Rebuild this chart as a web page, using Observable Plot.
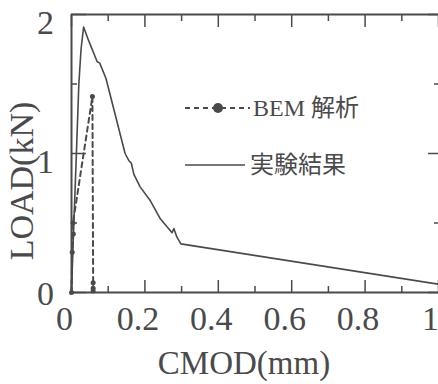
<!DOCTYPE html>
<html><head><meta charset="utf-8">
<script src="https://cdn.jsdelivr.net/npm/d3@7"></script>
<script src="https://cdn.jsdelivr.net/npm/@observablehq/plot@0.6"></script>
<style>
html,body{margin:0;padding:0;background:#fff;}
#chart{width:438px;height:384px;}
</style>
</head><body><div id="chart"></div>
<script>
// Experimental result (実験結果): CMOD (mm), LOAD (kN)
const expCmod = [0, 0.005, 0.012, 0.02, 0.026, 0.033, 0.047, 0.070, 0.077, 0.094, 0.146, 0.156, 0.163, 0.170, 0.187, 0.215, 0.242, 0.274, 0.279, 0.287, 0.298, 1.0];
const expLoad = [0, 0.4, 0.9, 1.5, 1.75, 1.91, 1.81, 1.66, 1.65, 1.54, 1.00, 0.95, 0.93, 0.85, 0.76, 0.66, 0.53, 0.43, 0.46, 0.40, 0.35, 0.06];
// BEM analysis (BEM 解析)
const bemCmod = [0, 0.002, 0.005, 0.004, 0.057, 0.059, 0.059, 0.059];
const bemLoad = [0, 0.29, 0.42, 0.50, 1.41, 0.07, 0.03, 0.01];
// ticks
const xMajor = [0, 0.2, 0.4, 0.6, 0.8, 1];
const xMinor = [0.1, 0.3, 0.5, 0.7, 0.9];
const xLabels = ["0", "0.2", "0.4", "0.6", "0.8", "1"];
const yMajor = [0, 1, 2];
const yMinor = [0.5, 1.5];
const yLabels = ["0", "1", "2"];
const xTitle = "CMOD(mm)";
const yTitle = "LOAD(kN)";
const legendLabels = ["BEM 解析", "実験結果"];

const C = "#4a4a4a";
const FONT = "'Liberation Serif','Noto Sans CJK JP',serif";

const expData = expCmod.map((x, i) => ({x, y: expLoad[i]}));
const bemData = bemCmod.map((x, i) => ({x, y: bemLoad[i]}));
const xLab = xMajor.map((v, i) => ({v, t: xLabels[i]}));
const yLab = yMajor.map((v, i) => ({v, t: yLabels[i]}));
const tickText = {fontSize: 34, fill: C, textAnchor: "middle", lineAnchor: "middle", text: "t"};

const plot = Plot.plot({
  width: 438, height: 384,
  marginLeft: 71, marginRight: 0, marginTop: 14, marginBottom: 92,
  x: {domain: [0, 1]},
  y: {domain: [0, 2]},
  style: {fontFamily: FONT, color: C, background: "#fff"},
  marks: [
    // frame (top, bottom, left)
    Plot.ruleY([0, 2], {stroke: C, strokeWidth: 2}),
    Plot.ruleX([0], {stroke: C, strokeWidth: 2}),
    // inward ticks
    Plot.axisX(xMajor, {anchor: "bottom", tickSize: -12, tickFormat: () => "", stroke: C, strokeWidth: 1.5, label: null}),
    Plot.axisX(xMinor, {anchor: "bottom", tickSize: -6, tickFormat: () => "", stroke: C, strokeWidth: 1.5, label: null}),
    Plot.axisX(xMajor, {anchor: "top", tickSize: -12, tickFormat: () => "", stroke: C, strokeWidth: 1.5, label: null}),
    Plot.axisX(xMinor, {anchor: "top", tickSize: -6, tickFormat: () => "", stroke: C, strokeWidth: 1.5, label: null}),
    Plot.axisY(yMajor, {anchor: "left", tickSize: -15, tickFormat: () => "", stroke: C, strokeWidth: 1.5, label: null}),
    Plot.axisY(yMinor, {anchor: "left", tickSize: -6, tickFormat: () => "", stroke: C, strokeWidth: 1.5, label: null}),
    Plot.axisY(yMajor, {anchor: "right", tickSize: -11, tickFormat: () => "", stroke: C, strokeWidth: 1.5, label: null}),
    Plot.axisY(yMinor, {anchor: "right", tickSize: -5, tickFormat: () => "", stroke: C, strokeWidth: 1.5, label: null}),
    // tick labels
    Plot.text(xLab.slice(0, 5), {x: "v", frameAnchor: "bottom", dy: 27, dx: -7, ...tickText}),
    Plot.text(xLab.slice(5), {x: "v", frameAnchor: "bottom", dy: 27, dx: -8, ...tickText}),
    Plot.text(yLab.slice(1), {y: "v", frameAnchor: "left", dx: -26, dy: 9, ...tickText}),
    Plot.text(yLab.slice(0, 1), {y: "v", frameAnchor: "left", dx: -26, dy: 2, ...tickText}),
    // data
    Plot.line(expData, {x: "x", y: "y", stroke: C, strokeWidth: 1.6}),
    Plot.line(bemData, {x: "x", y: "y", stroke: C, strokeWidth: 2, strokeDasharray: "5,4"}),
    Plot.dot(bemData, {x: "x", y: "y", r: 2.5, fill: C})
  ]
});

const svg = d3.select(plot);
// axis titles
svg.append("text").attr("transform", "translate(244,362)")
  .attr("text-anchor", "middle").attr("dy", "0.35em")
  .attr("font-family", FONT).attr("font-size", 33).attr("fill", C).text(xTitle);
svg.append("text").attr("transform", "translate(21,181) rotate(-90)")
  .attr("text-anchor", "middle").attr("dy", "0.35em")
  .attr("font-family", FONT).attr("font-size", 34).attr("fill", C).text(yTitle);
// legend
const lg = svg.append("g").attr("font-family", FONT).attr("fill", C).attr("text-anchor", "start");
lg.append("line").attr("x1", 185).attr("x2", 250).attr("y1", 108).attr("y2", 108)
  .attr("stroke", C).attr("stroke-width", 2).attr("stroke-dasharray", "5,4");
lg.append("circle").attr("cx", 218).attr("cy", 108).attr("r", 5).attr("fill", C);
lg.append("text").attr("x", 253).attr("y", 108).attr("dy", "0.35em").attr("font-size", 24).text(legendLabels[0]);
lg.append("line").attr("x1", 185).attr("x2", 245).attr("y1", 165).attr("y2", 165)
  .attr("stroke", C).attr("stroke-width", 1.6);
lg.append("text").attr("x", 250).attr("y", 165).attr("dy", "0.35em").attr("font-size", 24).text(legendLabels[1]);

document.getElementById("chart").appendChild(plot);
</script>
</body></html>
